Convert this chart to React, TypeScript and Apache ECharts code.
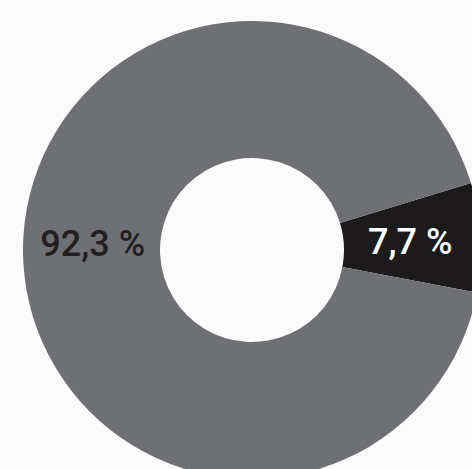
import React, { useEffect, useRef } from "react";
import * as echarts from "echarts";

const categories = ["A", "B"];
const values = [7.7, 92.3];
const labels = ["7,7 %", "92,3 %"];

export default function App() {
  const ref = useRef<HTMLDivElement>(null);
  useEffect(() => {
    const chart = echarts.init(ref.current!, null, { renderer: "svg" });
    chart.setOption({
      animation: false,
      backgroundColor: "#fbfbfb",
      series: [
        {
          type: "pie",
          center: [252, 250],
          radius: [92, 229],
          startAngle: 17,
          clockwise: true,
          silent: true,
          data: categories.map((c, i) => ({
            name: c,
            value: values[i],
            itemStyle: { color: i === 0 ? "#1c1a1b" : "#6f7073" },
            label: {
              formatter: labels[i],
              color: i === 0 ? "#ffffff" : "#231f20",
              offset: i === 0 ? [-5, 1] : [4, -15],
            },
          })),
          label: {
            show: true,
            position: "inner",
            fontFamily: "Roboto",
            fontWeight: 500,
            fontSize: 36,
          },
          labelLine: { show: false },
        },
      ],
    });
    return () => chart.dispose();
  }, []);
  return (
    <div
      ref={ref}
      style={{ position: "fixed", left: 0, top: 0, width: 472, height: 469 }}
    />
  );
}
